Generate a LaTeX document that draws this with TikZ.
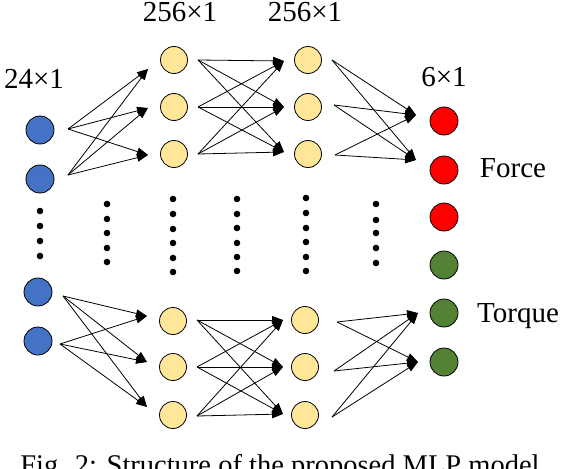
\documentclass[tikz,border=0pt]{standalone}
\usepackage{fontspec}
\setmainfont{Liberation Serif}
\usetikzlibrary{arrows.meta}
\definecolor{inblue}{HTML}{4472C4}
\definecolor{hidyel}{HTML}{FFE699}
\definecolor{outred}{HTML}{FF0000}
\definecolor{outgreen}{HTML}{548235}
\tikzset{
  neuron/.style={circle, draw=black, line width=0.8pt, inner sep=0pt, minimum size=#1},
  neuron/.default=27pt,
  inn/.style={neuron=28pt, fill=inblue},
  hid/.style={neuron=27pt, fill=hidyel},
  outr/.style={neuron=28pt, fill=outred},
  outg/.style={neuron=28pt, fill=outgreen},
  conn/.style={line width=0.8pt, -{Triangle[length=11pt,width=8pt]}},
  lbl/.style={inner sep=0pt, anchor=base, font=\fontsize{29}{34}\selectfont},
  dotm/.style={fill=black, draw=none}
}
\begin{document}
\begin{tikzpicture}[x=1pt,y=-1pt]
\useasboundingbox (0,0) rectangle (564,468);
% input
\node[inn] (in1) at (40,130) {};
\node[inn] (in2) at (40,179) {};
\node[inn] (in3) at (38,292) {};
\node[inn] (in4) at (38,341) {};
% hidden 1
\node[hid] (a1) at (174,60) {};
\node[hid] (a2) at (174,107) {};
\node[hid] (a3) at (174,154) {};
\node[hid] (a4) at (173,321) {};
\node[hid] (a5) at (173,367) {};
\node[hid] (a6) at (173,415) {};
% hidden 2
\node[hid] (b1) at (308,60) {};
\node[hid] (b2) at (308,107) {};
\node[hid] (b3) at (308,154) {};
\node[hid] (b4) at (305,320) {};
\node[hid] (b5) at (305,367) {};
\node[hid] (b6) at (305,415) {};
% output
\node[outr] (o1) at (444,121) {};
\node[outr] (o2) at (444,170) {};
\node[outr] (o3) at (444,217) {};
\node[outg] (o4) at (444,265) {};
\node[outg] (o5) at (444,313) {};
\node[outg] (o6) at (444,362) {};
% labels
\node[lbl] (l24) at (34,89) {24×1};
\node[lbl] (l256a) at (180,22) {256×1};
\node[lbl] (l256b) at (305,22) {256×1};
\node[lbl] (l6) at (444,87) {6×1};
\node[lbl] (lf) at (513,177) {Force};
\node[lbl] (lt) at (518,322) {Torque};
\node[lbl, font=\fontsize{28.5}{34}\selectfont] (cap) at (280,474) {Fig. 2: Structure of the proposed MLP model};
% connector end points
\coordinate (s1) at (68,129); \coordinate (s2) at (68,175);
\coordinate (s3) at (63,296); \coordinate (s4) at (60,344);
\coordinate (ta1) at (148,69); \coordinate (ta2) at (148,108); \coordinate (ta3) at (148,155);
\coordinate (ta4) at (147,316); \coordinate (ta5) at (147,362); \coordinate (ta6) at (147,407);
\coordinate (sa1) at (198,60); \coordinate (sa2) at (198,107); \coordinate (sa3) at (198,154);
\coordinate (sa4) at (197,320); \coordinate (sa5) at (197,367); \coordinate (sa6) at (197,416);
\coordinate (tb1) at (284,61); \coordinate (tb2) at (284,107); \coordinate (tb3) at (284,152);
\coordinate (tb4) at (283,320); \coordinate (tb5) at (283,367); \coordinate (tb6) at (283,414);
\coordinate (sb1) at (332,60); \coordinate (sb2) at (334,105); \coordinate (sb3) at (335,155);
\coordinate (sb4) at (337,322); \coordinate (sb5) at (334,371); \coordinate (sb6) at (332,417);
\coordinate (to1) at (416,115); \coordinate (to2) at (416,160);
\coordinate (to3) at (418,313); \coordinate (to4) at (418,362);
% input -> hidden 1
\foreach \s in {s1,s2}{\foreach \t in {ta1,ta2,ta3}{\draw[conn] (\s) -- (\t);}}
\foreach \s in {s3,s4}{\foreach \t in {ta4,ta5,ta6}{\draw[conn] (\s) -- (\t);}}
% hidden 1 -> hidden 2
\foreach \s in {sa1,sa2,sa3}{\foreach \t in {tb1,tb2,tb3}{\draw[conn] (\s) -- (\t);}}
\foreach \s in {sa4,sa5,sa6}{\foreach \t in {tb4,tb5,tb6}{\draw[conn] (\s) -- (\t);}}
% hidden 2 -> output
\foreach \s in {sb1,sb2,sb3}{\foreach \t in {to1,to2}{\draw[conn] (\s) -- (\t);}}
\foreach \s in {sb4,sb5,sb6}{\foreach \t in {to3,to4}{\draw[conn] (\s) -- (\t);}}
% dots
\foreach \y in {211,226,241,256}{\fill[dotm] (40,\y) circle (3.3);}
\foreach \y in {204,219,233,248,262}{\fill[dotm] (107,\y) circle (3.3);}
\foreach \y in {199,214,229,243,258,272}{\fill[dotm] (173,\y) circle (3.3);}
\foreach \y in {199,214,228,243,257,271}{\fill[dotm] (237,\y) circle (3.3);}
\foreach \y in {198,213,228,242,257,271}{\fill[dotm] (306,\y) circle (3.3);}
\foreach \y in {204,220,233,248,263}{\fill[dotm] (376,\y) circle (3.3);}
\end{tikzpicture}
\end{document}
